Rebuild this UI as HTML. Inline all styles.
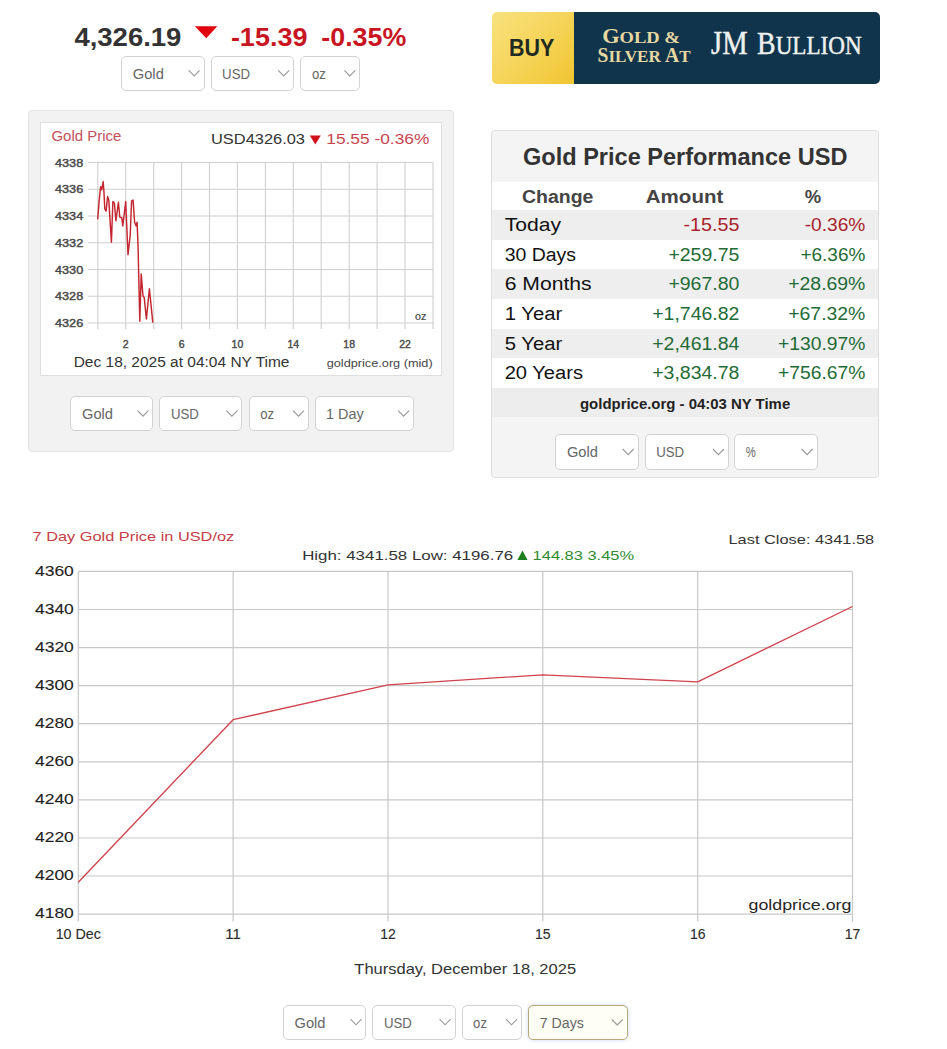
<!DOCTYPE html>
<html><head><meta charset="utf-8"><title>Gold Price</title>
<style>
html,body{margin:0;padding:0;background:#fff;}
body{width:947px;height:1049px;position:relative;overflow:hidden;font-family:"Liberation Sans", sans-serif;}
svg{position:absolute;left:0;top:0;}
</style></head><body>
<div style="position:absolute;left:121.2px;top:55.5px;width:83.5px;height:35.8px;box-sizing:border-box;border:1px solid #d2d2d2;border-radius:5px;background:#fff"></div>
<div style="position:absolute;left:210.5px;top:55.5px;width:83.7px;height:35.8px;box-sizing:border-box;border:1px solid #d2d2d2;border-radius:5px;background:#fff"></div>
<div style="position:absolute;left:300.4px;top:55.5px;width:59.9px;height:35.8px;box-sizing:border-box;border:1px solid #d2d2d2;border-radius:5px;background:#fff"></div>
<div style="position:absolute;left:491.5px;top:12px;width:82.5px;height:72px;border-radius:5px 0 0 5px;background:linear-gradient(135deg,#f8e27e 0%,#f5d45a 50%,#f0c531 100%)"></div>
<div style="position:absolute;left:574px;top:12px;width:306px;height:72px;border-radius:0 5px 5px 0;background:#10344b"></div>
<div style="position:absolute;left:28.2px;top:109.6px;width:426.1px;height:342.4px;box-sizing:border-box;border:1px solid #e4e4e4;border-radius:4px;background:#f2f2f2"></div>
<div style="position:absolute;left:40.0px;top:122.4px;width:402.0px;height:253.6px;box-sizing:border-box;border:1px solid #dedede;background:#fff"></div>
<div style="position:absolute;left:70.4px;top:395.8px;width:83.1px;height:35.5px;box-sizing:border-box;border:1px solid #d2d2d2;border-radius:5px;background:#fff"></div>
<div style="position:absolute;left:159.3px;top:395.8px;width:83.1px;height:35.5px;box-sizing:border-box;border:1px solid #d2d2d2;border-radius:5px;background:#fff"></div>
<div style="position:absolute;left:248.7px;top:395.8px;width:60.3px;height:35.5px;box-sizing:border-box;border:1px solid #d2d2d2;border-radius:5px;background:#fff"></div>
<div style="position:absolute;left:314.5px;top:395.8px;width:99.6px;height:35.5px;box-sizing:border-box;border:1px solid #d2d2d2;border-radius:5px;background:#fff"></div>
<div style="position:absolute;left:490.9px;top:129.9px;width:388.5px;height:347.9px;box-sizing:border-box;border:1px solid #dedede;border-radius:4px;background:#f4f4f4"></div>
<div style="position:absolute;left:491.9px;top:181.5px;width:386.3px;height:0.8px;background:#e6e6e6"></div>
<div style="position:absolute;left:491.9px;top:182.3px;width:386.3px;height:28.0px;background:#fff"></div>
<div style="position:absolute;left:491.9px;top:210.3px;width:386.3px;height:29.4px;background:#eeeeee"></div>
<div style="position:absolute;left:491.9px;top:239.7px;width:386.3px;height:29.7px;background:#fff"></div>
<div style="position:absolute;left:491.9px;top:269.4px;width:386.3px;height:29.6px;background:#eeeeee"></div>
<div style="position:absolute;left:491.9px;top:299.0px;width:386.3px;height:30.0px;background:#fff"></div>
<div style="position:absolute;left:491.9px;top:329.0px;width:386.3px;height:29.0px;background:#eeeeee"></div>
<div style="position:absolute;left:491.9px;top:358.0px;width:386.3px;height:30.2px;background:#fff"></div>
<div style="position:absolute;left:491.9px;top:388.2px;width:386.3px;height:28.8px;background:#ededed"></div>
<div style="position:absolute;left:555.3px;top:434.0px;width:83.4px;height:36.0px;box-sizing:border-box;border:1px solid #d2d2d2;border-radius:5px;background:#fff"></div>
<div style="position:absolute;left:644.6px;top:434.0px;width:84.3px;height:36.0px;box-sizing:border-box;border:1px solid #d2d2d2;border-radius:5px;background:#fff"></div>
<div style="position:absolute;left:734.2px;top:434.0px;width:83.4px;height:36.0px;box-sizing:border-box;border:1px solid #d2d2d2;border-radius:5px;background:#fff"></div>
<div style="position:absolute;left:282.9px;top:1004.5px;width:83.6px;height:35.5px;box-sizing:border-box;border:1px solid #d2d2d2;border-radius:5px;background:#fff"></div>
<div style="position:absolute;left:372.4px;top:1004.5px;width:83.2px;height:35.5px;box-sizing:border-box;border:1px solid #d2d2d2;border-radius:5px;background:#fff"></div>
<div style="position:absolute;left:461.5px;top:1004.5px;width:60.5px;height:35.5px;box-sizing:border-box;border:1px solid #d2d2d2;border-radius:5px;background:#fff"></div>
<div style="position:absolute;left:528.2px;top:1004.5px;width:99.5px;height:35.9px;box-sizing:border-box;border:1px solid #b7a877;border-radius:5px;background:#fffef5;box-shadow:0 0 4px rgba(150,170,230,.45)"></div>
<svg width="947" height="1049" viewBox="0 0 947 1049">
<text x="74.4" y="46.0" font-size="26.5" font-weight="bold" fill="#333" font-family='"Liberation Sans", sans-serif' text-anchor="start" textLength="107.0" lengthAdjust="spacingAndGlyphs">4,326.19</text>
<path d="M194.8 26.3 L217.3 26.3 L206.3 38.3 Z" fill="#e0000e"/>
<text x="230.9" y="46.0" font-size="26.5" font-weight="bold" fill="#c8151f" font-family='"Liberation Sans", sans-serif' text-anchor="start" textLength="76.5" lengthAdjust="spacingAndGlyphs">-15.39</text>
<text x="321.3" y="46.0" font-size="26.5" font-weight="bold" fill="#c8151f" font-family='"Liberation Sans", sans-serif' text-anchor="start" textLength="85.0" lengthAdjust="spacingAndGlyphs">-0.35%</text>
<text x="132.8" y="78.8" font-size="14" font-weight="normal" fill="#666" font-family='"Liberation Sans", sans-serif' text-anchor="start" textLength="31.0" lengthAdjust="spacingAndGlyphs">Gold</text>
<path d="M188.7 70.4 L194.2 76.0 L199.7 70.4" fill="none" stroke="#9a9a9a" stroke-width="1.15"/>
<text x="222.1" y="78.8" font-size="14" font-weight="normal" fill="#666" font-family='"Liberation Sans", sans-serif' text-anchor="start" textLength="27.9" lengthAdjust="spacingAndGlyphs">USD</text>
<path d="M278.2 70.4 L283.7 76.0 L289.2 70.4" fill="none" stroke="#9a9a9a" stroke-width="1.15"/>
<text x="312.0" y="78.8" font-size="14" font-weight="normal" fill="#666" font-family='"Liberation Sans", sans-serif' text-anchor="start" textLength="13.9" lengthAdjust="spacingAndGlyphs">oz</text>
<path d="M344.3 70.4 L349.8 76.0 L355.3 70.4" fill="none" stroke="#9a9a9a" stroke-width="1.15"/>
<text x="509.0" y="55.8" font-size="23" font-weight="bold" fill="#1e2a22" font-family='"Liberation Sans", sans-serif' text-anchor="start" textLength="45.3" lengthAdjust="spacingAndGlyphs">BUY</text>
<text x="602.2" y="43.2" font-family='"Liberation Serif", serif' font-weight="bold" fill="#e7d8a2" textLength="77.8" lengthAdjust="spacingAndGlyphs"><tspan font-size="20">G</tspan><tspan font-size="16.6">OLD </tspan><tspan font-size="17">&amp;</tspan></text>
<text x="597.5" y="61.8" font-family='"Liberation Serif", serif' font-weight="bold" fill="#e7d8a2" textLength="93" lengthAdjust="spacingAndGlyphs"><tspan font-size="20">S</tspan><tspan font-size="17.4">ILVER </tspan><tspan font-size="20">A</tspan><tspan font-size="17.4">T</tspan></text>
<text x="711.1" y="54.1" font-family='"Liberation Serif", serif' fill="#eef1ef" stroke="#eef1ef" stroke-width="0.45" font-size="33" textLength="36.5" lengthAdjust="spacingAndGlyphs">JM</text>
<text x="757.1" y="54.1" font-family='"Liberation Serif", serif' fill="#eef1ef" stroke="#eef1ef" stroke-width="0.45" textLength="104.5" lengthAdjust="spacingAndGlyphs"><tspan font-size="31">B</tspan><tspan font-size="25.7">ULLION</tspan></text>
<text x="51.4" y="141.1" font-size="15" font-weight="normal" fill="#c4505c" font-family='"Liberation Sans", sans-serif' text-anchor="start" textLength="70.0" lengthAdjust="spacingAndGlyphs">Gold Price</text>
<text x="211.0" y="143.8" font-size="14" font-weight="normal" fill="#333" font-family='"Liberation Sans", sans-serif' text-anchor="start" textLength="94.0" lengthAdjust="spacingAndGlyphs">USD4326.03</text>
<path d="M309.8 135.5 L320.8 135.5 L315.3 144.5 Z" fill="#d0101a"/>
<text x="326.3" y="143.8" font-size="14" font-weight="normal" fill="#c8454f" font-family='"Liberation Sans", sans-serif' text-anchor="start" textLength="103.0" lengthAdjust="spacingAndGlyphs">15.55 -0.36%</text>
<path d="M88 162.5 H433.2 M88 189.2 H433.2 M88 216.0 H433.2 M88 242.8 H433.2 M88 269.5 H433.2 M88 296.2 H433.2 M88 323.0 H433.2 M97.8 162.5 V329 M125.7 162.5 V329 M153.7 162.5 V329 M181.6 162.5 V329 M209.5 162.5 V329 M237.4 162.5 V329 M265.4 162.5 V329 M293.3 162.5 V329 M321.2 162.5 V329 M349.2 162.5 V329 M377.1 162.5 V329 M405.0 162.5 V329 M433.0 162.5 V329" stroke="#cfcfcf" stroke-width="1.1" fill="none"/>
<text x="55.0" y="166.7" font-size="11.8" font-weight="normal" fill="#4a4a4a" font-family='"Liberation Sans", sans-serif' text-anchor="start" textLength="28.2" lengthAdjust="spacingAndGlyphs" stroke="#4a4a4a" stroke-width="0.45">4338</text>
<text x="55.0" y="193.4" font-size="11.8" font-weight="normal" fill="#4a4a4a" font-family='"Liberation Sans", sans-serif' text-anchor="start" textLength="28.2" lengthAdjust="spacingAndGlyphs" stroke="#4a4a4a" stroke-width="0.45">4336</text>
<text x="55.0" y="220.2" font-size="11.8" font-weight="normal" fill="#4a4a4a" font-family='"Liberation Sans", sans-serif' text-anchor="start" textLength="28.2" lengthAdjust="spacingAndGlyphs" stroke="#4a4a4a" stroke-width="0.45">4334</text>
<text x="55.0" y="246.9" font-size="11.8" font-weight="normal" fill="#4a4a4a" font-family='"Liberation Sans", sans-serif' text-anchor="start" textLength="28.2" lengthAdjust="spacingAndGlyphs" stroke="#4a4a4a" stroke-width="0.45">4332</text>
<text x="55.0" y="273.7" font-size="11.8" font-weight="normal" fill="#4a4a4a" font-family='"Liberation Sans", sans-serif' text-anchor="start" textLength="28.2" lengthAdjust="spacingAndGlyphs" stroke="#4a4a4a" stroke-width="0.45">4330</text>
<text x="55.0" y="300.4" font-size="11.8" font-weight="normal" fill="#4a4a4a" font-family='"Liberation Sans", sans-serif' text-anchor="start" textLength="28.2" lengthAdjust="spacingAndGlyphs" stroke="#4a4a4a" stroke-width="0.45">4328</text>
<text x="55.0" y="327.2" font-size="11.8" font-weight="normal" fill="#4a4a4a" font-family='"Liberation Sans", sans-serif' text-anchor="start" textLength="28.2" lengthAdjust="spacingAndGlyphs" stroke="#4a4a4a" stroke-width="0.45">4326</text>
<text x="125.7" y="348.3" font-size="10.5" font-weight="normal" fill="#4a4a4a" font-family='"Liberation Sans", sans-serif' text-anchor="middle" stroke="#4a4a4a" stroke-width="0.4">2</text>
<text x="181.6" y="348.3" font-size="10.5" font-weight="normal" fill="#4a4a4a" font-family='"Liberation Sans", sans-serif' text-anchor="middle" stroke="#4a4a4a" stroke-width="0.4">6</text>
<text x="237.4" y="348.3" font-size="10.5" font-weight="normal" fill="#4a4a4a" font-family='"Liberation Sans", sans-serif' text-anchor="middle" stroke="#4a4a4a" stroke-width="0.4">10</text>
<text x="293.3" y="348.3" font-size="10.5" font-weight="normal" fill="#4a4a4a" font-family='"Liberation Sans", sans-serif' text-anchor="middle" stroke="#4a4a4a" stroke-width="0.4">14</text>
<text x="349.2" y="348.3" font-size="10.5" font-weight="normal" fill="#4a4a4a" font-family='"Liberation Sans", sans-serif' text-anchor="middle" stroke="#4a4a4a" stroke-width="0.4">18</text>
<text x="405.0" y="348.3" font-size="10.5" font-weight="normal" fill="#4a4a4a" font-family='"Liberation Sans", sans-serif' text-anchor="middle" stroke="#4a4a4a" stroke-width="0.4">22</text>
<text x="73.7" y="366.5" font-size="14" font-weight="normal" fill="#333" font-family='"Liberation Sans", sans-serif' text-anchor="start" textLength="215.8" lengthAdjust="spacingAndGlyphs">Dec 18, 2025 at 04:04 NY Time</text>
<text x="326.7" y="366.5" font-size="11.3" font-weight="normal" fill="#444" font-family='"Liberation Sans", sans-serif' text-anchor="start" textLength="106.0" lengthAdjust="spacingAndGlyphs">goldprice.org (mid)</text>
<text x="415.0" y="320.0" font-size="11" font-weight="normal" fill="#444" font-family='"Liberation Sans", sans-serif' text-anchor="start" textLength="11.3" lengthAdjust="spacingAndGlyphs" stroke="#444" stroke-width="0.2">oz</text>
<polyline points="97.7,219.3 99.2,200.1 100.6,186.8 101.7,189.8 103.2,181.6 104.0,192.7 104.8,209.0 106.1,211.2 107.6,196.4 108.8,200.1 111.4,242.2 112.9,201.6 114.4,203.0 115.9,220.8 118.4,202.3 119.8,217.1 121.8,217.8 122.8,225.9 124.3,213.4 125.7,201.6 128.0,254.7 130.2,235.5 131.6,200.8 133.1,200.1 134.6,222.2 136.1,225.9 137.1,222.2 138.0,244.4 139.8,321.2 141.2,273.9 143.0,296.1 144.2,297.5 146.4,319.0 149.4,288.7 152.8,322.6" fill="none" stroke="#c4262f" stroke-width="1.45" stroke-linejoin="round"/>
<text x="82.0" y="418.9" font-size="14" font-weight="normal" fill="#666" font-family='"Liberation Sans", sans-serif' text-anchor="start" textLength="31.0" lengthAdjust="spacingAndGlyphs">Gold</text>
<path d="M137.5 410.6 L143.0 416.2 L148.5 410.6" fill="none" stroke="#9a9a9a" stroke-width="1.15"/>
<text x="170.9" y="418.9" font-size="14" font-weight="normal" fill="#666" font-family='"Liberation Sans", sans-serif' text-anchor="start" textLength="27.9" lengthAdjust="spacingAndGlyphs">USD</text>
<path d="M226.4 410.6 L231.9 416.2 L237.4 410.6" fill="none" stroke="#9a9a9a" stroke-width="1.15"/>
<text x="260.3" y="418.9" font-size="14" font-weight="normal" fill="#666" font-family='"Liberation Sans", sans-serif' text-anchor="start" textLength="13.9" lengthAdjust="spacingAndGlyphs">oz</text>
<path d="M293.0 410.6 L298.5 416.2 L304.0 410.6" fill="none" stroke="#9a9a9a" stroke-width="1.15"/>
<text x="326.1" y="418.9" font-size="14" font-weight="normal" fill="#666" font-family='"Liberation Sans", sans-serif' text-anchor="start" textLength="37.6" lengthAdjust="spacingAndGlyphs">1 Day</text>
<path d="M398.1 410.6 L403.6 416.2 L409.1 410.6" fill="none" stroke="#9a9a9a" stroke-width="1.15"/>
<text x="523.0" y="164.5" font-size="23.5" font-weight="bold" fill="#333" font-family='"Liberation Sans", sans-serif' text-anchor="start" textLength="324.4" lengthAdjust="spacingAndGlyphs">Gold Price Performance USD</text>
<text x="522.0" y="203.2" font-size="18" font-weight="bold" fill="#444" font-family='"Liberation Sans", sans-serif' text-anchor="start" textLength="71.4" lengthAdjust="spacingAndGlyphs">Change</text>
<text x="645.8" y="203.2" font-size="18" font-weight="bold" fill="#444" font-family='"Liberation Sans", sans-serif' text-anchor="start" textLength="77.5" lengthAdjust="spacingAndGlyphs">Amount</text>
<text x="804.7" y="203.2" font-size="18" font-weight="bold" fill="#444" font-family='"Liberation Sans", sans-serif' text-anchor="start" textLength="16.4" lengthAdjust="spacingAndGlyphs">%</text>
<text x="504.7" y="231.3" font-size="18" font-weight="normal" fill="#111" font-family='"Liberation Sans", sans-serif' text-anchor="start" textLength="56.3" lengthAdjust="spacingAndGlyphs">Today</text>
<text x="683.5" y="231.3" font-size="18" font-weight="normal" fill="#a8232b" font-family='"Liberation Sans", sans-serif' text-anchor="start" textLength="55.9" lengthAdjust="spacingAndGlyphs">-15.55</text>
<text x="804.7" y="231.3" font-size="18" font-weight="normal" fill="#a8232b" font-family='"Liberation Sans", sans-serif' text-anchor="start" textLength="60.7" lengthAdjust="spacingAndGlyphs">-0.36%</text>
<text x="504.7" y="260.7" font-size="18" font-weight="normal" fill="#111" font-family='"Liberation Sans", sans-serif' text-anchor="start" textLength="71.4" lengthAdjust="spacingAndGlyphs">30 Days</text>
<text x="668.4" y="260.7" font-size="18" font-weight="normal" fill="#1f6b36" font-family='"Liberation Sans", sans-serif' text-anchor="start" textLength="71.0" lengthAdjust="spacingAndGlyphs">+259.75</text>
<text x="800.4" y="260.7" font-size="18" font-weight="normal" fill="#1f6b36" font-family='"Liberation Sans", sans-serif' text-anchor="start" textLength="65.0" lengthAdjust="spacingAndGlyphs">+6.36%</text>
<text x="504.7" y="290.4" font-size="18" font-weight="normal" fill="#111" font-family='"Liberation Sans", sans-serif' text-anchor="start" textLength="87.0" lengthAdjust="spacingAndGlyphs">6 Months</text>
<text x="668.4" y="290.4" font-size="18" font-weight="normal" fill="#1f6b36" font-family='"Liberation Sans", sans-serif' text-anchor="start" textLength="71.0" lengthAdjust="spacingAndGlyphs">+967.80</text>
<text x="788.2" y="290.4" font-size="18" font-weight="normal" fill="#1f6b36" font-family='"Liberation Sans", sans-serif' text-anchor="start" textLength="77.2" lengthAdjust="spacingAndGlyphs">+28.69%</text>
<text x="504.7" y="320.0" font-size="18" font-weight="normal" fill="#111" font-family='"Liberation Sans", sans-serif' text-anchor="start" textLength="57.6" lengthAdjust="spacingAndGlyphs">1 Year</text>
<text x="652.2" y="320.0" font-size="18" font-weight="normal" fill="#1f6b36" font-family='"Liberation Sans", sans-serif' text-anchor="start" textLength="87.2" lengthAdjust="spacingAndGlyphs">+1,746.82</text>
<text x="788.2" y="320.0" font-size="18" font-weight="normal" fill="#1f6b36" font-family='"Liberation Sans", sans-serif' text-anchor="start" textLength="77.2" lengthAdjust="spacingAndGlyphs">+67.32%</text>
<text x="504.7" y="350.0" font-size="18" font-weight="normal" fill="#111" font-family='"Liberation Sans", sans-serif' text-anchor="start" textLength="57.6" lengthAdjust="spacingAndGlyphs">5 Year</text>
<text x="652.2" y="350.0" font-size="18" font-weight="normal" fill="#1f6b36" font-family='"Liberation Sans", sans-serif' text-anchor="start" textLength="87.2" lengthAdjust="spacingAndGlyphs">+2,461.84</text>
<text x="778.1" y="350.0" font-size="18" font-weight="normal" fill="#1f6b36" font-family='"Liberation Sans", sans-serif' text-anchor="start" textLength="87.3" lengthAdjust="spacingAndGlyphs">+130.97%</text>
<text x="504.7" y="379.0" font-size="18" font-weight="normal" fill="#111" font-family='"Liberation Sans", sans-serif' text-anchor="start" textLength="78.3" lengthAdjust="spacingAndGlyphs">20 Years</text>
<text x="652.2" y="379.0" font-size="18" font-weight="normal" fill="#1f6b36" font-family='"Liberation Sans", sans-serif' text-anchor="start" textLength="87.2" lengthAdjust="spacingAndGlyphs">+3,834.78</text>
<text x="778.1" y="379.0" font-size="18" font-weight="normal" fill="#1f6b36" font-family='"Liberation Sans", sans-serif' text-anchor="start" textLength="87.3" lengthAdjust="spacingAndGlyphs">+756.67%</text>
<text x="580.0" y="408.8" font-size="14" font-weight="bold" fill="#222" font-family='"Liberation Sans", sans-serif' text-anchor="start" textLength="210.2" lengthAdjust="spacingAndGlyphs">goldprice.org - 04:03 NY Time</text>
<text x="566.9" y="457.4" font-size="14" font-weight="normal" fill="#666" font-family='"Liberation Sans", sans-serif' text-anchor="start" textLength="31.0" lengthAdjust="spacingAndGlyphs">Gold</text>
<path d="M622.7 449.0 L628.2 454.6 L633.7 449.0" fill="none" stroke="#9a9a9a" stroke-width="1.15"/>
<text x="656.2" y="457.4" font-size="14" font-weight="normal" fill="#666" font-family='"Liberation Sans", sans-serif' text-anchor="start" textLength="27.9" lengthAdjust="spacingAndGlyphs">USD</text>
<path d="M712.9 449.0 L718.4 454.6 L723.9 449.0" fill="none" stroke="#9a9a9a" stroke-width="1.15"/>
<text x="745.8" y="457.4" font-size="14" font-weight="normal" fill="#666" font-family='"Liberation Sans", sans-serif' text-anchor="start" textLength="10.0" lengthAdjust="spacingAndGlyphs">%</text>
<path d="M801.6 449.0 L807.1 454.6 L812.6 449.0" fill="none" stroke="#9a9a9a" stroke-width="1.15"/>
<text x="32.6" y="541.0" font-size="13.5" font-weight="normal" fill="#c43c46" font-family='"Liberation Sans", sans-serif' text-anchor="start" textLength="201.6" lengthAdjust="spacingAndGlyphs">7 Day Gold Price in USD/oz</text>
<text x="302.2" y="559.7" font-size="13" font-weight="normal" fill="#333" font-family='"Liberation Sans", sans-serif' text-anchor="start" textLength="211.0" lengthAdjust="spacingAndGlyphs">High: 4341.58 Low: 4196.76</text>
<path d="M517.4 560 L527.6 560 L522.5 550.5 Z" fill="#1d7f1d"/>
<text x="532.6" y="559.7" font-size="13" font-weight="normal" fill="#2e8b2e" font-family='"Liberation Sans", sans-serif' text-anchor="start" textLength="101.5" lengthAdjust="spacingAndGlyphs">144.83 3.45%</text>
<text x="728.5" y="543.9" font-size="13.5" font-weight="normal" fill="#333" font-family='"Liberation Sans", sans-serif' text-anchor="start" textLength="145.7" lengthAdjust="spacingAndGlyphs">Last Close: 4341.58</text>
<path d="M78.3 571.4 H852.5 M78.3 609.5 H852.5 M78.3 647.6 H852.5 M78.3 685.6 H852.5 M78.3 723.7 H852.5 M78.3 761.8 H852.5 M78.3 799.9 H852.5 M78.3 838.0 H852.5 M78.3 876.0 H852.5 M78.3 914.1 H852.5 M78.3 571.4 V921.4 M233.1 571.4 V921.4 M388.0 571.4 V921.4 M542.8 571.4 V921.4 M697.7 571.4 V921.4 M852.5 571.4 V921.4" stroke="#c8c8c8" stroke-width="1.2" fill="none"/>
<text x="35.0" y="575.7" font-size="15.2" font-weight="normal" fill="#222" font-family='"Liberation Sans", sans-serif' text-anchor="start" textLength="38.8" lengthAdjust="spacingAndGlyphs" stroke="#222" stroke-width="0.1">4360</text>
<text x="35.0" y="613.8" font-size="15.2" font-weight="normal" fill="#222" font-family='"Liberation Sans", sans-serif' text-anchor="start" textLength="38.8" lengthAdjust="spacingAndGlyphs" stroke="#222" stroke-width="0.1">4340</text>
<text x="35.0" y="651.9" font-size="15.2" font-weight="normal" fill="#222" font-family='"Liberation Sans", sans-serif' text-anchor="start" textLength="38.8" lengthAdjust="spacingAndGlyphs" stroke="#222" stroke-width="0.1">4320</text>
<text x="35.0" y="689.9" font-size="15.2" font-weight="normal" fill="#222" font-family='"Liberation Sans", sans-serif' text-anchor="start" textLength="38.8" lengthAdjust="spacingAndGlyphs" stroke="#222" stroke-width="0.1">4300</text>
<text x="35.0" y="728.0" font-size="15.2" font-weight="normal" fill="#222" font-family='"Liberation Sans", sans-serif' text-anchor="start" textLength="38.8" lengthAdjust="spacingAndGlyphs" stroke="#222" stroke-width="0.1">4280</text>
<text x="35.0" y="766.1" font-size="15.2" font-weight="normal" fill="#222" font-family='"Liberation Sans", sans-serif' text-anchor="start" textLength="38.8" lengthAdjust="spacingAndGlyphs" stroke="#222" stroke-width="0.1">4260</text>
<text x="35.0" y="804.2" font-size="15.2" font-weight="normal" fill="#222" font-family='"Liberation Sans", sans-serif' text-anchor="start" textLength="38.8" lengthAdjust="spacingAndGlyphs" stroke="#222" stroke-width="0.1">4240</text>
<text x="35.0" y="842.3" font-size="15.2" font-weight="normal" fill="#222" font-family='"Liberation Sans", sans-serif' text-anchor="start" textLength="38.8" lengthAdjust="spacingAndGlyphs" stroke="#222" stroke-width="0.1">4220</text>
<text x="35.0" y="880.3" font-size="15.2" font-weight="normal" fill="#222" font-family='"Liberation Sans", sans-serif' text-anchor="start" textLength="38.8" lengthAdjust="spacingAndGlyphs" stroke="#222" stroke-width="0.1">4200</text>
<text x="35.0" y="918.4" font-size="15.2" font-weight="normal" fill="#222" font-family='"Liberation Sans", sans-serif' text-anchor="start" textLength="38.8" lengthAdjust="spacingAndGlyphs" stroke="#222" stroke-width="0.1">4180</text>
<text x="78.3" y="939.4" font-size="15" font-weight="normal" fill="#2a2a2a" font-family='"Liberation Sans", sans-serif' text-anchor="middle" textLength="45.3" lengthAdjust="spacingAndGlyphs" stroke="#2a2a2a" stroke-width="0.1">10 Dec</text>
<text x="233.1" y="939.4" font-size="15" font-weight="normal" fill="#2a2a2a" font-family='"Liberation Sans", sans-serif' text-anchor="middle" textLength="15.6" lengthAdjust="spacingAndGlyphs" stroke="#2a2a2a" stroke-width="0.1">11</text>
<text x="388.0" y="939.4" font-size="15" font-weight="normal" fill="#2a2a2a" font-family='"Liberation Sans", sans-serif' text-anchor="middle" textLength="15.6" lengthAdjust="spacingAndGlyphs" stroke="#2a2a2a" stroke-width="0.1">12</text>
<text x="542.8" y="939.4" font-size="15" font-weight="normal" fill="#2a2a2a" font-family='"Liberation Sans", sans-serif' text-anchor="middle" textLength="15.6" lengthAdjust="spacingAndGlyphs" stroke="#2a2a2a" stroke-width="0.1">15</text>
<text x="697.7" y="939.4" font-size="15" font-weight="normal" fill="#2a2a2a" font-family='"Liberation Sans", sans-serif' text-anchor="middle" textLength="15.6" lengthAdjust="spacingAndGlyphs" stroke="#2a2a2a" stroke-width="0.1">16</text>
<text x="852.5" y="939.4" font-size="15" font-weight="normal" fill="#2a2a2a" font-family='"Liberation Sans", sans-serif' text-anchor="middle" textLength="15.6" lengthAdjust="spacingAndGlyphs" stroke="#2a2a2a" stroke-width="0.1">17</text>
<polyline points="78.3,882.2 233.1,719.7 388.0,684.9 542.8,674.8 697.7,681.8 852.5,606.5" fill="none" stroke="#d0424c" stroke-width="1.35" stroke-linejoin="round"/>
<text x="748.6" y="909.8" font-size="15.5" font-weight="normal" fill="#262626" font-family='"Liberation Sans", sans-serif' text-anchor="start" textLength="102.8" lengthAdjust="spacingAndGlyphs">goldprice.org</text>
<text x="354.3" y="973.5" font-size="14.5" font-weight="normal" fill="#333" font-family='"Liberation Sans", sans-serif' text-anchor="start" textLength="221.8" lengthAdjust="spacingAndGlyphs">Thursday, December 18, 2025</text>
<text x="294.5" y="1027.7" font-size="14" font-weight="normal" fill="#666" font-family='"Liberation Sans", sans-serif' text-anchor="start" textLength="31.0" lengthAdjust="spacingAndGlyphs">Gold</text>
<path d="M350.5 1019.2 L356.0 1024.8 L361.5 1019.2" fill="none" stroke="#9a9a9a" stroke-width="1.15"/>
<text x="384.0" y="1027.7" font-size="14" font-weight="normal" fill="#666" font-family='"Liberation Sans", sans-serif' text-anchor="start" textLength="27.9" lengthAdjust="spacingAndGlyphs">USD</text>
<path d="M439.6 1019.2 L445.1 1024.8 L450.6 1019.2" fill="none" stroke="#9a9a9a" stroke-width="1.15"/>
<text x="473.1" y="1027.7" font-size="14" font-weight="normal" fill="#666" font-family='"Liberation Sans", sans-serif' text-anchor="start" textLength="13.9" lengthAdjust="spacingAndGlyphs">oz</text>
<path d="M506.0 1019.2 L511.5 1024.8 L517.0 1019.2" fill="none" stroke="#9a9a9a" stroke-width="1.15"/>
<text x="539.8" y="1027.9" font-size="14" font-weight="normal" fill="#666" font-family='"Liberation Sans", sans-serif' text-anchor="start" textLength="44.1" lengthAdjust="spacingAndGlyphs">7 Days</text>
<path d="M611.7 1019.5 L617.2 1025.0 L622.7 1019.5" fill="none" stroke="#9a9a9a" stroke-width="1.15"/>
</svg>
</body></html>
